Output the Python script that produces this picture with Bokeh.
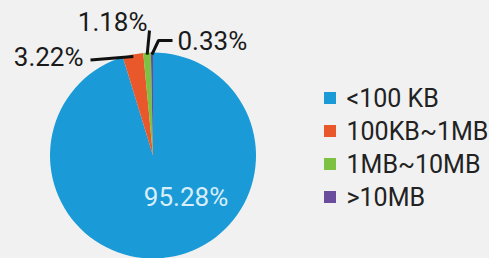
import math
from bokeh.plotting import figure
from bokeh.models import Range1d, ColumnDataSource
from bokeh.core.properties import value
from bokeh.embed import file_html
from bokeh.resources import INLINE

# ---- data ----
categories = ["<100 KB", "100KB~1MB", "1MB~10MB", ">10MB"]
shares = [95.28, 3.22, 1.18, 0.33]
labels = ["95.28%", "3.22%", "1.18%", "0.33%"]
colors = ["#1b9ad8", "#e8582a", "#7dc142", "#6a4c9c"]

BG = "#f1f1f1"
W, H = 489, 258
FONT = "Roboto"

p = figure(width=W, height=H, output_backend="svg", toolbar_location=None,
           x_range=Range1d(0, W), y_range=Range1d(0, H),
           min_border=0, outline_line_color=None,
           background_fill_color=BG, border_fill_color=BG)
p.axis.visible = False
p.grid.visible = False

def py(page_y):
    return H - page_y

cx, cy, r = 152.5, py(155), 103

total = sum(shares)
cum = [0.0]
for s in shares:
    cum.append(cum[-1] + s)
start = [math.radians(90 - c / total * 360) for c in cum[:-1]]
end = [math.radians(90 - c / total * 360) for c in cum[1:]]
mid = [(a + b) / 2 for a, b in zip(start, end)]

src = ColumnDataSource(dict(x=[cx] * 4, y=[cy] * 4, start=start, end=end,
                            color=colors, cat=categories))
p.wedge(x="x", y="y", radius=r, start_angle="start", end_angle="end",
        direction="clock", fill_color="color", line_color=None, source=src)

# inner label for the big slice
p.text(x=[185.5], y=[py(196.5)], text=[labels[0]],
       text_font=value(FONT), text_font_size="26px", text_color="#d8eef8",
       text_align="center", text_baseline="middle")

# leader lines (start on rim at slice mid-angle)
rim = [(cx + (r - 2) * math.cos(a), cy + (r - 2) * math.sin(a)) for a in mid]
xs = [[rim[1][0], 90], [rim[2][0], 149], [rim[3][0], 158, 172]]
ys = [[rim[1][1], py(59.5)], [rim[2][1], py(30)], [rim[3][1], py(40), py(40)]]
p.multi_line(xs=xs, ys=ys, line_color="#111111", line_width=3)

p.text(x=[83], y=[py(56.5)], text=[labels[1]], text_font=value(FONT),
       text_font_size="26px", text_color="#1a1a1a", text_align="right",
       text_baseline="middle")
p.text(x=[147], y=[py(21)], text=[labels[2]], text_font=value(FONT),
       text_font_size="26px", text_color="#1a1a1a", text_align="right",
       text_baseline="middle")
p.text(x=[177], y=[py(40)], text=[labels[3]], text_font=value(FONT),
       text_font_size="26px", text_color="#1a1a1a", text_align="left",
       text_baseline="middle")

# legend
ly = [py(97.5 + 33 * i) for i in range(4)]
p.scatter(x=[329.5] * 4, y=ly, marker="square", size=12, fill_color=colors,
          line_color=None)
p.text(x=[346] * 4, y=ly, text=categories, text_font=value(FONT),
       text_font_size="25px", text_color="#222222", text_align="left",
       text_baseline="middle")

html = file_html(p, INLINE)
html = html.replace("</head>", "<style>body{background:%s;}</style></head>" % BG, 1)
open("out.html", "w").write(html)
